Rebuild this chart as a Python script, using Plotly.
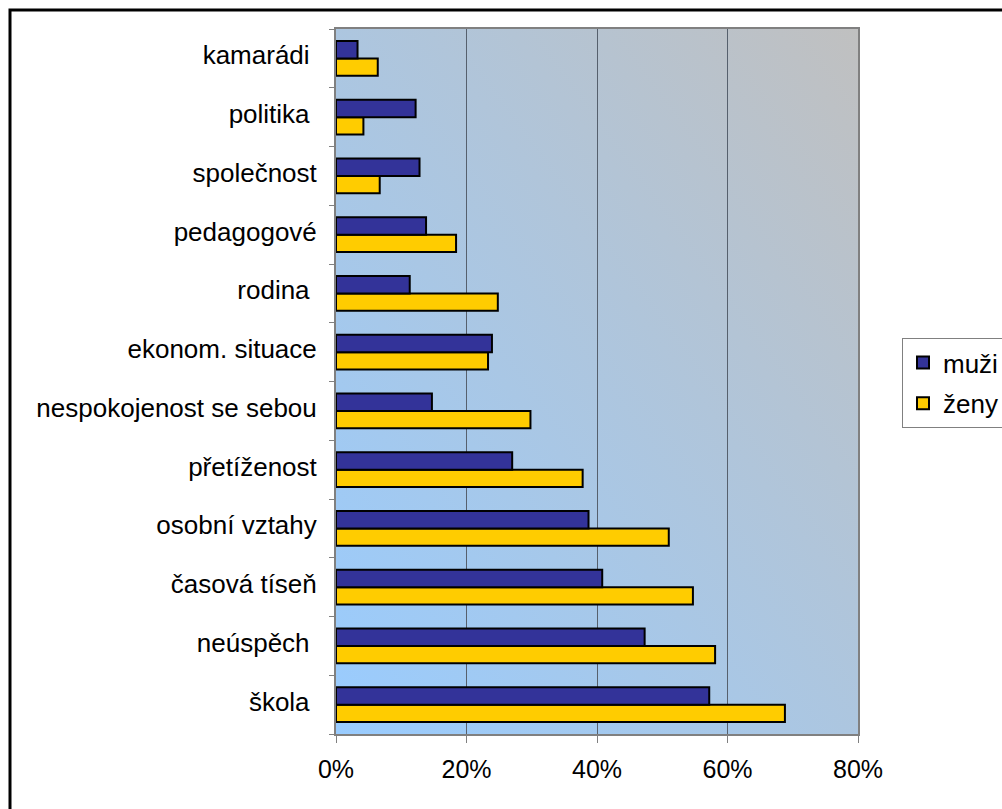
import base64
import plotly.graph_objects as go

# Categories listed bottom to top (first category sits at the bottom of a category y axis)
categories = [
    "škola\u00a0",
    "neúspěch\u00a0",
    "časová tíseň",
    "osobní vztahy",
    "přetíženost",
    "nespokojenost se sebou",
    "ekonom. situace",
    "rodina\u00a0",
    "pedagogové",
    "společnost",
    "politika\u00a0",
    "kamarádi\u00a0",
]

# Shares in percent
muzi = [57.2, 47.3, 40.8, 38.7, 27.0, 14.7, 23.9, 11.3, 13.8, 12.8, 12.2, 3.3]
zeny = [68.8, 58.1, 54.7, 51.0, 37.8, 29.8, 23.3, 24.8, 18.4, 6.7, 4.2, 6.4]

x_ticks = [0, 20, 40, 60, 80]
x_tick_labels = ["0%", "20%", "40%", "60%", "80%"]

W, H = 1002, 809
L, R, T, B = 336, 144, 29, 75          # plot area margins in px
PW, PH = W - L - R, H - T - B

FONT = "Liberation Sans, Arial, sans-serif"


def px_x(p):
    return (p - L) / PW


def px_y(p):
    return (H - B - p) / PH


# Diagonal sky-blue to grey gradient used as the plot background
grad_svg = (
    '<svg xmlns="http://www.w3.org/2000/svg" width="100" height="100" '
    'viewBox="0 0 100 100" preserveAspectRatio="none">'
    '<defs><linearGradient id="g" x1="0" y1="1" x2="1" y2="0">'
    '<stop offset="0" stop-color="#99CCFF"/>'
    '<stop offset="1" stop-color="#C0C0C0"/>'
    '</linearGradient></defs>'
    '<rect width="100" height="100" fill="url(#g)"/></svg>'
)
grad_uri = "data:image/svg+xml;base64," + base64.b64encode(grad_svg.encode()).decode()

fig = go.Figure()

# ženy first so that muži sits above it within each category
fig.add_trace(go.Bar(
    y=categories, x=zeny, orientation="h", name="ženy",
    marker=dict(color="#FFCC00", line=dict(color="#000000", width=2)),
    legendgroup="z", legendrank=2,
))
fig.add_trace(go.Bar(
    y=categories, x=muzi, orientation="h", name="muži",
    marker=dict(color="#333399", line=dict(color="#000000", width=2)),
    legendgroup="m", legendrank=1,
))

fig.update_layout(
    width=W, height=H, autosize=False,
    margin=dict(l=L, r=R, t=T, b=B, pad=0, autoexpand=False),
    paper_bgcolor="white",
    plot_bgcolor="rgba(0,0,0,0)",
    barmode="group", bargap=0.41, bargroupgap=0,
    font=dict(family=FONT, size=25, color="black"),
    showlegend=True,
    legend=dict(
        x=px_x(902), y=px_y(338), xanchor="left", yanchor="top",
        bgcolor="white", bordercolor="#808080", borderwidth=1,
        font=dict(family=FONT, size=26, color="black"),
        traceorder="grouped", tracegroupgap=4,
    ),
    xaxis=dict(
        range=[0, 80], tickmode="array", tickvals=x_ticks, ticktext=x_tick_labels,
        showgrid=True, gridcolor="#56606d", gridwidth=1, zeroline=False,
        showline=True, mirror=True, linecolor="#808080", linewidth=2,
        ticks="outside", ticklen=7, tickcolor="#808080", tickwidth=1,
        ticklabelstandoff=5,
        tickfont=dict(family=FONT, size=25, color="black"),
        fixedrange=True,
    ),
    yaxis=dict(
        type="category", tickson="boundaries",
        showgrid=False, zeroline=False,
        showline=True, mirror=True, linecolor="#808080", linewidth=2,
        ticks="outside", ticklen=5, tickcolor="#808080", tickwidth=1,
        ticklabelstandoff=12, ticklabelshift=-3,
        tickfont=dict(family=FONT, size=26, color="black"),
        fixedrange=True,
    ),
    images=[dict(
        source=grad_uri, xref="paper", yref="paper",
        x=0, y=1, sizex=1, sizey=1, xanchor="left", yanchor="top",
        sizing="stretch", layer="below",
    )],
    shapes=[dict(
        type="rect", xref="paper", yref="paper",
        x0=px_x(10), x1=px_x(1012), y0=px_y(820), y1=px_y(10),
        line=dict(color="black", width=3), fillcolor="rgba(0,0,0,0)",
        layer="above",
    )],
)

fig.write_html("out.html")
